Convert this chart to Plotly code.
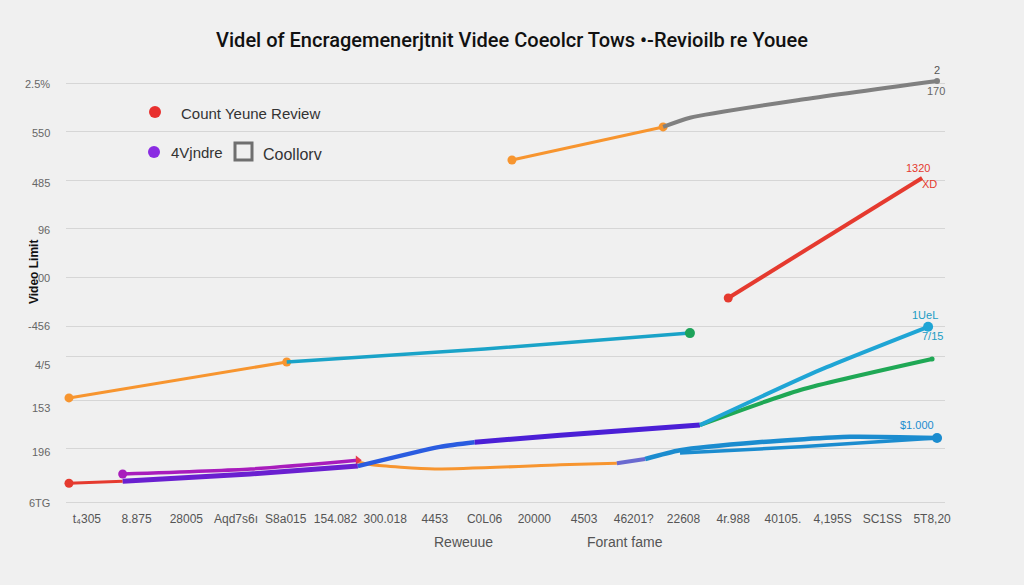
import plotly.graph_objects as go

# ---------------- data ----------------
x_tick_labels = ["t₄305", "8.875", "28005", "Aqd7s6ı", "S8a015", "154.082", "300.018",
                 "4453", "C0L06", "20000", "4503", "46201?", "22608", "4r.988",
                 "40105.", "4,195S", "SC1SS", "5T8,20"]
x_tick_pos = list(range(18))

y_grid_vals = [100, 88.5, 76.8, 65.3, 53.6, 41.9, 34.9, 24.4, 12.7, 0]
y_label_vals = [100, 88.3, 76.3, 65.1, 53.6, 42.1, 32.8, 22.5, 12.0, -0.2]
y_tick_labels = ["2.5%", "550", "485", "96", "00", "-456", "4/5", "153", "196", "6TG"]

orange_a_x = [-0.36, 4.02]
orange_a_y = [24.9, 33.5]
teal_a_x = [4.02, 8.0, 12.13]
teal_a_y = [33.5, 36.6, 40.4]

red_low_x = [-0.36, 0.72]
red_low_y = [4.5, 5.0]

magenta_x = [0.72, 3.3, 5.45]
magenta_y = [6.7, 7.9, 10.0]

purple_x = [0.72, 3.28, 5.45]
purple_y = [5.0, 6.7, 8.6]
blue_mid_x = [5.45, 7.10, 7.8]
blue_mid_y = [8.6, 13.2, 14.3]
indigo_x = [7.8, 9.52, 12.33]
indigo_y = [14.3, 16.0, 18.4]

orange_low_x = [5.45, 5.73, 7.0, 9.52, 10.66]
orange_low_y = [9.6, 8.9, 7.9, 8.9, 9.3]

violet_link_x = [10.66, 11.23]
violet_link_y = [9.3, 10.3]
blue_low1_x = [11.23, 11.93, 13.5, 15.35, 17.10]
blue_low1_y = [10.3, 12.4, 14.3, 15.6, 15.3]
blue_low2_x = [11.93, 14.35, 17.10]
blue_low2_y = [11.7, 13.2, 15.3]

green_x = [12.33, 14.35, 17.0]
green_y = [18.4, 26.8, 34.2]

cyan_x = [12.33, 14.75, 16.92]
cyan_y = [18.4, 31.6, 41.9]

red_up_x = [12.9, 16.8]
red_up_y = [48.8, 77.5]

orange_up_x = [8.55, 11.59]
orange_up_y = [81.8, 89.7]
gray_x = [11.59, 12.13, 14.35, 17.10]
gray_y = [89.7, 91.9, 96.2, 100.7]

end_labels = [
    # text, x, y, color
    ("2", 17.10, 103.3, "#555555"),
    ("170", 17.08, 98.4, "#666666"),
    ("1320", 16.72, 79.9, "#e53a2f"),
    ("XD", 16.95, 76.0, "#e53a2f"),
    ("1UeL", 16.85, 44.8, "#1b9cc4"),
    ("7/15", 17.0, 39.6, "#1b9cc4"),
    ("$1.000", 16.7, 18.4, "#1b8ccf"),
]

FONT = "Liberation Sans, Arial"

# ---------------- figure ----------------
fig = go.Figure()


def line(x, y, color, width=3.5, marker_ends=None, msize=9, mcolor=None):
    fig.add_trace(go.Scatter(x=x, y=y, mode="lines", cliponaxis=False,
                             line=dict(color=color, width=width, shape="spline", smoothing=0.6),
                             hoverinfo="skip", showlegend=False))
    if marker_ends:
        mx = [x[i] for i in marker_ends]
        my = [y[i] for i in marker_ends]
        fig.add_trace(go.Scatter(x=mx, y=my, mode="markers", cliponaxis=False,
                                 marker=dict(color=mcolor or color, size=msize),
                                 hoverinfo="skip", showlegend=False))


line(orange_a_x, orange_a_y, "#f7952f", 3, [0, 1])
line(teal_a_x, teal_a_y, "#1aa3c8", 3.5)
fig.add_trace(go.Scatter(x=[teal_a_x[-1]], y=[teal_a_y[-1]], mode="markers", cliponaxis=False,
                         marker=dict(color="#1da35a", size=10), hoverinfo="skip", showlegend=False))

line(red_low_x, red_low_y, "#e53a2f", 3, [0])
line(orange_low_x, orange_low_y, "#f7952f", 3)
line(magenta_x, magenta_y, "#a81cbc", 3.5, [0])
fig.add_trace(go.Scatter(x=[magenta_x[-1]], y=[magenta_y[-1]], mode="markers", cliponaxis=False,
                         marker=dict(color="#e53a4f", size=8, symbol="triangle-right"),
                         hoverinfo="skip", showlegend=False))
line(purple_x, purple_y, "#6a1fd0", 5)
line(blue_mid_x, blue_mid_y, "#2a5ce0", 4.5)
line(indigo_x, indigo_y, "#4b1fd6", 5)

line(green_x, green_y, "#1fa855", 4, [2], msize=5)
line(cyan_x, cyan_y, "#1fa5d5", 4, [2], msize=10)

line(violet_link_x, violet_link_y, "#6a6ad0", 4)
line(blue_low1_x, blue_low1_y, "#1b8ccf", 4.5)
line(blue_low2_x, blue_low2_y, "#1b8ccf", 3.5, [2], msize=10)

line(red_up_x, red_up_y, "#e53a2f", 4, [0])
line(orange_up_x, orange_up_y, "#f7952f", 3, [0, 1])
line(gray_x, gray_y, "#808080", 4, [3], msize=6)

annotations = []
for t, x, y, c in end_labels:
    annotations.append(dict(text=t, x=x, y=y, xref="x", yref="y", showarrow=False,
                            xanchor="center", yanchor="middle",
                            font=dict(size=11, color=c, family=FONT)))

for t, v in zip(y_tick_labels, y_label_vals):
    annotations.append(dict(text=t, x=(52 - 66) / 879, y=v, xref="paper", yref="y",
                            xanchor="right", yanchor="middle",
                            showarrow=False, font=dict(size=11, color="#666666", family=FONT)))

# y axis title (rotated)
annotations.append(dict(text="<b>Video Limit</b>", x=(34 - 66) / 879, y=55, xref="paper", yref="y",
                        textangle=-90, showarrow=False, xanchor="center", yanchor="middle",
                        font=dict(size=12, color="#111111", family=FONT)))

# x axis titles
annotations.append(dict(text="Reweuue", x=(463 - 66) / 879, y=(510 - 542) / 450,
                        xref="paper", yref="paper", xanchor="center", yanchor="middle",
                        showarrow=False, font=dict(size=14, color="#555555", family=FONT)))
annotations.append(dict(text="Forant fame", x=(625 - 66) / 879, y=(510 - 542) / 450,
                        xref="paper", yref="paper", xanchor="center", yanchor="middle",
                        showarrow=False, font=dict(size=14, color="#555555", family=FONT)))

# legend texts
annotations.append(dict(text="Count Yeune Review", x=(179 - 66) / 879, y=(510 - 113) / 450,
                        xref="paper", yref="paper", xanchor="left", yanchor="middle", showarrow=False,
                        font=dict(size=15, color="#333333", family=FONT)))
annotations.append(dict(text="4Vjndre", x=(169 - 66) / 879, y=(510 - 152) / 450,
                        xref="paper", yref="paper", xanchor="left", yanchor="middle", showarrow=False,
                        font=dict(size=15, color="#333333", family=FONT)))
annotations.append(dict(text="Coollorv", x=(261 - 66) / 879, y=(510 - 154) / 450,
                        xref="paper", yref="paper", xanchor="left", yanchor="middle", showarrow=False,
                        font=dict(size=16, color="#333333", family=FONT)))

shapes = [
    dict(type="circle", xref="paper", yref="paper",
         x0=(149 - 66) / 879, x1=(161 - 66) / 879, y0=(510 - 118) / 450, y1=(510 - 106) / 450,
         fillcolor="#e8302e", line=dict(width=0)),
    dict(type="circle", xref="paper", yref="paper",
         x0=(148 - 66) / 879, x1=(160 - 66) / 879, y0=(510 - 158) / 450, y1=(510 - 146) / 450,
         fillcolor="#8a2be2", line=dict(width=0)),
    dict(type="rect", xref="paper", yref="paper",
         x0=(235 - 66) / 879, x1=(252 - 66) / 879, y0=(510 - 160) / 450, y1=(510 - 143) / 450,
         fillcolor="rgba(0,0,0,0)", line=dict(color="#6f6f6f", width=3)),
]

fig.update_layout(
    width=1024, height=585,
    paper_bgcolor="#f0f0f0", plot_bgcolor="#f0f0f0",
    margin=dict(l=66, r=79, t=60, b=75),
    title=dict(text="Videl of Encragemenerjtnit Videe Coeolcr Tows •-Revioilb re Youee",
               x=0.5, xanchor="center", y=1 - 40 / 585, yanchor="middle", yref="container",
               font=dict(size=20, color="#111111", family="Roboto, Liberation Sans", weight=500)),
    xaxis=dict(range=[-0.42, 17.26], tickvals=x_tick_pos, ticktext=x_tick_labels,
               showgrid=False, zeroline=False, showline=False,
               tickfont=dict(size=12, color="#555555", family=FONT),
               ticks=""),
    yaxis=dict(range=[-1.9, 105.7], tickvals=y_grid_vals, showticklabels=False,
               showgrid=True, gridcolor="#d6d6d6", gridwidth=1, zeroline=False, showline=False),
    annotations=annotations,
    shapes=shapes,
    showlegend=False,
)

fig.write_html("out.html", config={"displayModeBar": False},
               post_script="document.body.style.margin='0';document.body.style.overflow='hidden';")
